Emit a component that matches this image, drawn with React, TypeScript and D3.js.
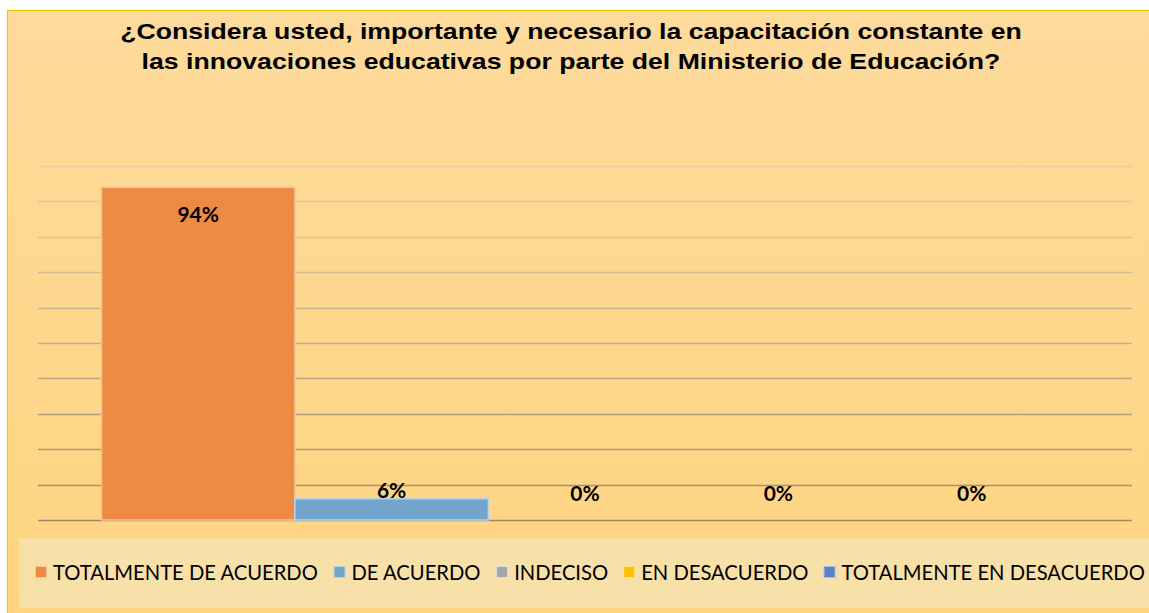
import React, { useEffect, useRef } from "react";
import * as d3 from "d3";

const titleLines = [
  "¿Considera usted, importante y necesario la capacitación constante en",
  "las innovaciones educativas por parte del Ministerio de Educación?",
];
const seriesNames = [
  "TOTALMENTE DE ACUERDO",
  "DE ACUERDO",
  "INDECISO",
  "EN DESACUERDO",
  "TOTALMENTE EN DESACUERDO",
];
const seriesValues = [0.94, 0.06, 0, 0, 0];
const seriesColors = ["#ee8b42", "#73a4c9", "#a5a5a5", "#ffc000", "#5a80c8"];
const barStrokes = ["#f7c39a", "#b7d2e8", "#dddddd", "#ffe08a", "#a9bde6"];
const yTicks = [0, 0.1, 0.2, 0.3, 0.4, 0.5, 0.6, 0.7, 0.8, 0.9, 1.0];

const W = 1149;
const H = 613;

export default function App() {
  const ref = useRef<SVGSVGElement>(null);

  useEffect(() => {
    const svg = d3.select(ref.current);
    svg.selectAll("*").remove();

    const defs = svg.append("defs");
    const bg = defs
      .append("linearGradient")
      .attr("id", "bg")
      .attr("x1", 0)
      .attr("y1", 0)
      .attr("x2", 0)
      .attr("y2", 1);
    bg.append("stop").attr("offset", "0%").attr("stop-color", "#fddb9c");
    bg.append("stop").attr("offset", "100%").attr("stop-color", "#ffd47f");

    // chart area
    svg
      .append("rect")
      .attr("x", 7.5)
      .attr("y", 10.5)
      .attr("width", W)
      .attr("height", H)
      .attr("fill", "url(#bg)")
      .attr("stroke", "#ffc000")
      .attr("stroke-width", 1.2);

    // title (horizontally stretched like the reference)
    const title = svg
      .append("g")
      .attr("transform", "translate(571,0) scale(1.24,1)")
      .append("text")
      .attr("text-anchor", "middle")
      .attr("font-family", "'Liberation Sans', Arial, sans-serif")
      .attr("font-weight", "bold")
      .attr("font-size", 21.5)
      .attr("fill", "#000");
    titleLines.forEach((l, i) => {
      title
        .append("tspan")
        .attr("x", 0)
        .attr("y", 39 + i * 30)
        .text(l);
    });

    const plot = { left: 38, right: 1132, top: 166, bottom: 520 };
    const y = d3.scaleLinear().domain([0, 1]).range([plot.bottom, plot.top]);
    const x0 = d3
      .scaleBand<string>()
      .domain(["cat"])
      .range([plot.left, plot.right])
      .paddingInner(0)
      .paddingOuter(0.0657);
    const x1 = d3
      .scaleBand<string>()
      .domain(seriesNames)
      .range([x0("cat")!, x0("cat")! + x0.bandwidth()])
      .padding(0);

    const gridColor = d3.interpolateRgb("#e8cfa2", "#9e8a6b");
    svg
      .append("g")
      .selectAll("line")
      .data(yTicks)
      .join("line")
      .attr("x1", plot.left)
      .attr("x2", plot.right)
      .attr("y1", (d) => Math.round(y(d)) + 0.5)
      .attr("y2", (d) => Math.round(y(d)) + 0.5)
      .attr("stroke", (d) => gridColor(1 - d))
      .attr("stroke-width", 1.3);

    // bars
    svg
      .append("g")
      .selectAll("rect")
      .data(seriesValues.map((v, i) => ({ v, i, name: seriesNames[i] })))
      .join("rect")
      .filter((d) => d.v > 0)
      .attr("x", (d) => x1(d.name)!)
      .attr("y", (d) => y(d.v))
      .attr("width", x1.bandwidth())
      .attr("height", (d) => y(0) - y(d.v))
      .attr("fill", (d) => seriesColors[d.i])
      .attr("stroke", (d) => barStrokes[d.i])
      .attr("stroke-width", 1.5);

    // data labels
    svg
      .append("g")
      .selectAll("text")
      .data(seriesValues.map((v, i) => ({ v, i, name: seriesNames[i] })))
      .join("text")
      .attr("x", (d) => x1(d.name)! + x1.bandwidth() / 2)
      .attr("y", (d) =>
        d.v > 0.5 ? y(d.v) + 35 : Math.min(y(d.v) - 1, y(0) - 19)
      )
      .attr("text-anchor", "middle")
      .attr("font-family", "Lato, 'Open Sans', sans-serif")
      .attr("font-weight", "bold")
      .attr("font-size", 21)
      .attr("fill", "#000")
      .text((d) => d3.format(".0%")(d.v));

    // legend
    svg
      .append("rect")
      .attr("x", 19)
      .attr("y", 538)
      .attr("width", W)
      .attr("height", 70)
      .attr("fill", "#f8e0a9");

    const lg = svg.append("g");
    const fontSize = 20.2;
    const canvas = document.createElement("canvas");
    const ctx = canvas.getContext("2d")!;
    ctx.font = `${fontSize}px Lato`;
    let cx = 35;
    seriesNames.forEach((name, i) => {
      lg.append("rect")
        .attr("x", cx + 0.5)
        .attr("y", 566.5)
        .attr("width", 11)
        .attr("height", 11)
        .attr("fill", seriesColors[i])
        .attr("stroke", barStrokes[i])
        .attr("stroke-width", 1);
      const tw = ctx.measureText(name).width;
      lg.append("text")
        .attr("x", cx + 18)
        .attr("y", 580)
        .attr("font-family", "Lato, sans-serif")
        .attr("font-size", fontSize)
        .attr("fill", "#000")
        .text(name);
      cx += 18 + tw + 15;
    });
  }, []);

  return (
    <svg
      ref={ref}
      width={W}
      height={H}
      style={{ position: "absolute", left: 0, top: 0, display: "block" }}
    />
  );
}
